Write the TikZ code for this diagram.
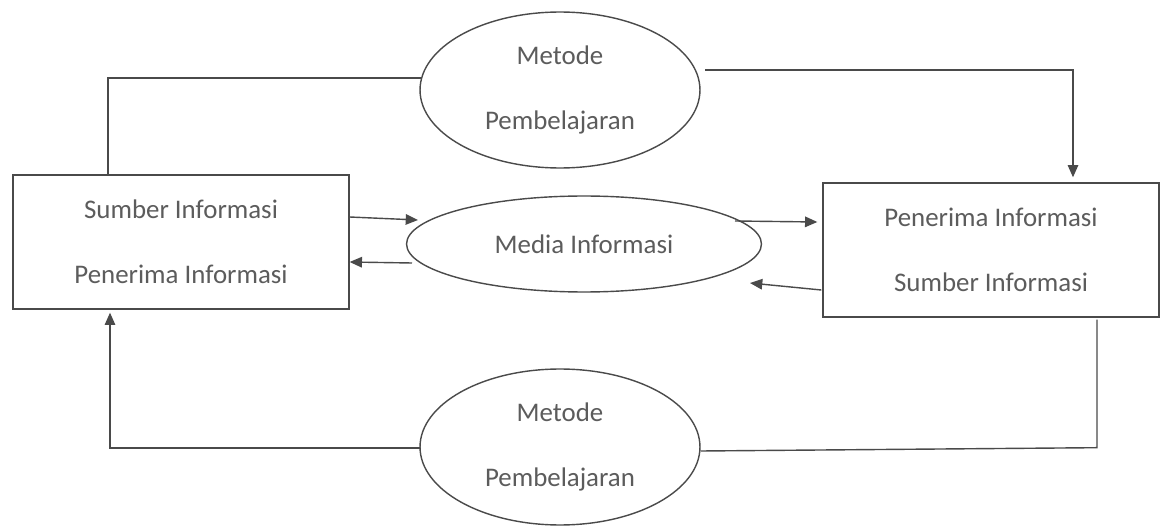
\documentclass[tikz,border=0pt]{standalone}
\usepackage{fontspec}
\setmainfont{Carlito}
\usetikzlibrary{shapes.geometric,arrows.meta,calc}
\definecolor{linec}{HTML}{4A4A4A}
\definecolor{textc}{HTML}{5C5C5C}
\begin{document}
\begin{tikzpicture}[x=0.02cm,y=-0.02cm,
  every node/.style={text=textc,font=\fontsize{15.3}{18}\selectfont},
  box/.style={draw=linec,line width=0.8pt,rectangle,inner sep=0pt,align=center},
  proc/.style={draw=linec,line width=0.8pt,ellipse,inner sep=0pt,align=center},
  conn/.style={draw=linec,line width=0.8pt},
  arr/.style={conn,-{Triangle[length=7pt,width=6pt]}}]
\useasboundingbox (0,0) rectangle (1161,527);
\fill[white] (0,0) rectangle (1161,527);
% nodes
\node[box,minimum width=6.72cm,minimum height=2.68cm] (L) at (181,242)
  {Sumber Informasi\\[19pt]Penerima Informasi};
\node[box,minimum width=6.72cm,minimum height=2.68cm] (R) at (991,250)
  {Penerima Informasi\\[19pt]Sumber Informasi};
\node[proc,minimum width=7.1cm,minimum height=1.92cm] (M) at (584,244) {Media Informasi};
\node[proc,minimum width=5.6cm,minimum height=3.12cm] (T) at (560,90)
  {Metode\\[19pt]Pembelajaran};
\node[proc,minimum width=5.6cm,minimum height=3.12cm] (B) at (560,447)
  {Metode\\[19pt]Pembelajaran};
% connectors between boxes and media
\draw[arr] ($(L.east)+(0,-25)$) -- ($(M.center)+(-166,-24)$);
\draw[arr] ($(M.center)+(-172,19)$) -- ($(L.east)+(0,20)$);
\draw[arr] ($(M.center)+(151,-23)$) -- ($(R.west)+(-5,-28)$);
\draw[arr] ($(R.west)+(-1,40)$) -- ($(M.center)+(166,39)$);
% top loop
\draw[conn] ($(T.west)+(2,-12)$) -| ($(L.north)+(-73,0)$);
\draw[arr] ($(T.center)+(145,-20)$) -| ($(R.north)+(82,-5)$);
% bottom loop
\draw[conn] ($(R.south)+(106,2)$) -- ++(0,128) -- ($(B.east)+(0,4)$);
\draw[arr] ($(B.west)+(1,1)$) -| ($(L.south)+(-71,3)$);
\end{tikzpicture}
\end{document}
